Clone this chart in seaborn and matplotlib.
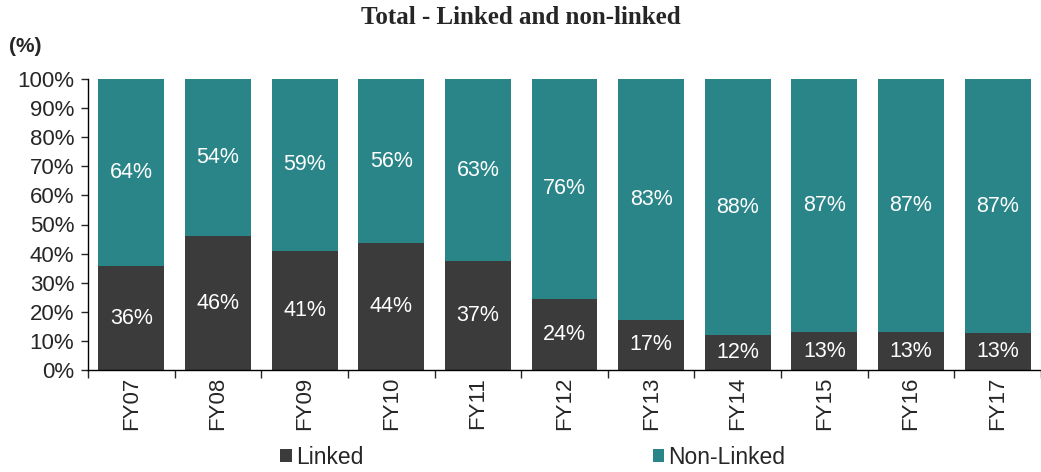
"""
Stacked 100% bar chart: linked vs non-linked share by fiscal year.
"""

import pandas as pd
import seaborn as sns
import matplotlib.pyplot as plt
from matplotlib.ticker import PercentFormatter, FixedLocator

# ---------------------------
# Data
# ---------------------------
years = ["FY07", "FY08", "FY09", "FY10", "FY11", "FY12",
         "FY13", "FY14", "FY15", "FY16", "FY17"]
linked = [35.7, 46.0, 41.0, 43.6, 37.4, 24.4, 17.2, 12.0, 13.0, 13.0, 12.7]
linked_labels = [36, 46, 41, 44, 37, 24, 17, 12, 13, 13, 13]
non_linked_labels = [64, 54, 59, 56, 63, 76, 83, 88, 87, 87, 87]

df = pd.DataFrame({"year": years, "linked": linked})
df["non_linked"] = 100 - df["linked"]
df["total"] = df["linked"] + df["non_linked"]

DARK = "#3b3b3b"
TEAL = "#2a8589"

# ---------------------------
# Plot
# ---------------------------
sns.set_style("white")
plt.rcParams["font.family"] = ["Liberation Sans", "DejaVu Sans"]

fig = plt.figure(figsize=(10.41, 4.72), dpi=100)
ax = fig.add_axes([88 / 1041, 1 - 370 / 472, 1 - 88 / 1041, (370 - 79) / 472])

sns.barplot(data=df, x="year", y="total", color=TEAL, width=0.76,
            saturation=1, label="Non-Linked", linewidth=0, ax=ax)
sns.barplot(data=df, x="year", y="linked", color=DARK, width=0.76,
            saturation=1, label="Linked", linewidth=0, ax=ax)

# value labels
for i, row in df.iterrows():
    ax.text(i, row["linked"] / 2, f"{linked_labels[i]}%", ha="center",
            va="center", color="white", fontsize=15.5)
    ax.text(i, row["linked"] + row["non_linked"] / 2, f"{non_linked_labels[i]}%",
            ha="center", va="center", color="white", fontsize=15.5)

ax.set_ylim(0, 100)
ax.set_xlim(-0.5, len(years) - 0.5)
ax.yaxis.set_major_locator(FixedLocator(range(0, 101, 10)))
ax.yaxis.set_major_formatter(PercentFormatter(decimals=0))
ax.tick_params(axis="y", direction="out", length=5, width=1, left=True,
               labelsize=16, pad=5)
ax.tick_params(axis="x", which="major", length=0, labelsize=16, pad=5,
               labelrotation=90)
ax.set_xticks([i - 0.5 for i in range(len(years) + 1)], minor=True)
ax.tick_params(axis="x", which="minor", direction="out", length=6, width=1,
               bottom=True)
ax.set_xlabel("")
ax.set_ylabel("")

sns.despine(ax=ax)
for s in ["left", "bottom"]:
    ax.spines[s].set_color("black")
    ax.spines[s].set_linewidth(1)

fig.text(0.5, 1 - 18 / 472, "Total - Linked and non-linked", ha="center",
         va="center", fontsize=18, fontweight="bold",
         family=["Liberation Serif", "DejaVu Serif"])
fig.text(9 / 1041, 1 - 47 / 472, "(%)", ha="left", va="center",
         fontsize=15, fontweight="bold")

handles, labels = ax.get_legend_handles_labels()
order = [labels.index("Linked"), labels.index("Non-Linked")]
if ax.legend_:
    ax.legend_.remove()
fig.legend([handles[k] for k in order], [labels[k] for k in order],
           loc="center", bbox_to_anchor=(533 / 1041, 1 - 457 / 472), ncol=2,
           frameon=False, fontsize=16.5, handlelength=0.5, handleheight=0.5,
           handletextpad=0.2, columnspacing=12.6)

# ---------------------------
# Save PNG
# ---------------------------
fig.savefig("out.png", dpi=100)
